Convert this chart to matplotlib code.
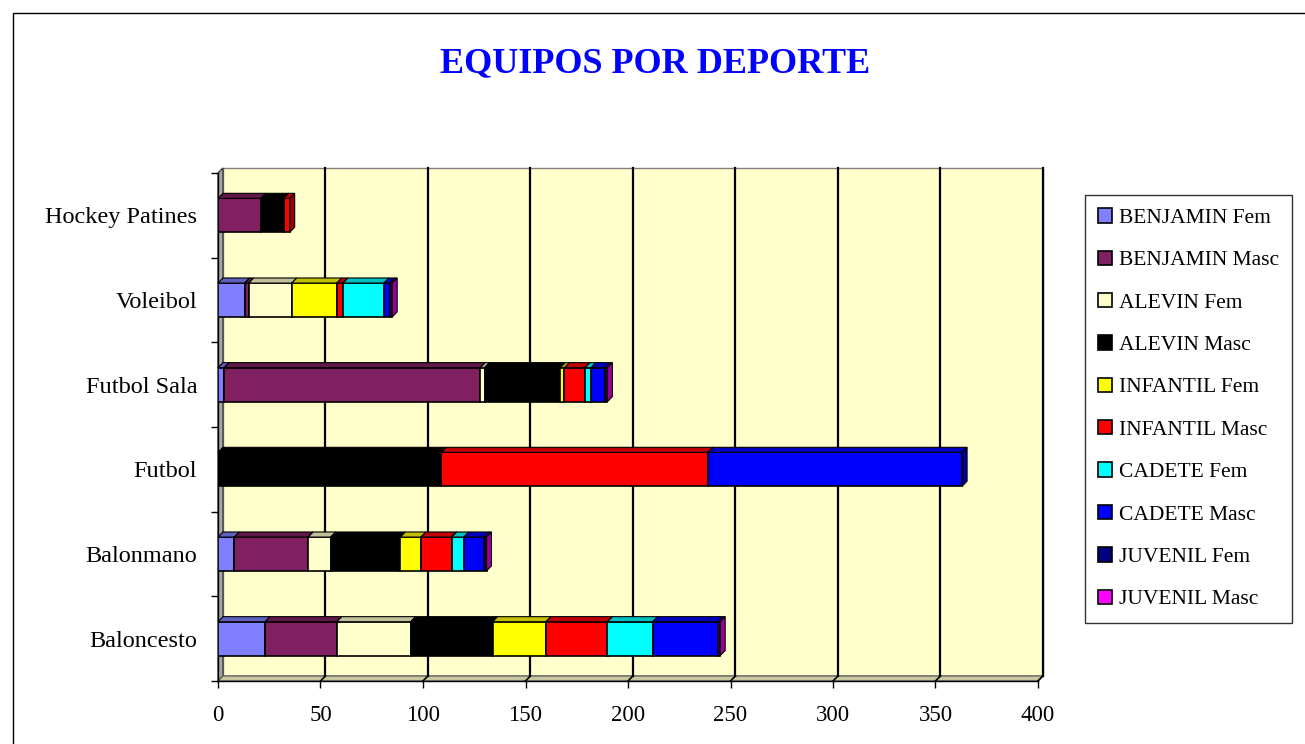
import matplotlib
matplotlib.use('Agg')
import matplotlib.pyplot as plt
from matplotlib.patches import Polygon, Rectangle, Patch
from matplotlib.colors import to_rgb

deportes = ['Baloncesto', 'Balonmano', 'Futbol', 'Futbol Sala', 'Voleibol', 'Hockey Patines']

series = ['BENJAMIN Fem', 'BENJAMIN Masc', 'ALEVIN Fem', 'ALEVIN Masc', 'INFANTIL Fem',
          'INFANTIL Masc', 'CADETE Fem', 'CADETE Masc', 'JUVENIL Fem', 'JUVENIL Masc']

benjamin_fem = [23, 8, 0, 3, 13, 0]
benjamin_masc = [35, 36, 0, 125, 2, 21]
alevin_fem = [36, 11, 0, 2, 21, 0]
alevin_masc = [40, 34, 109, 37, 0, 11]
infantil_fem = [26, 10, 0, 2, 22, 0]
infantil_masc = [30, 15, 130, 10, 3, 3]
cadete_fem = [22, 6, 0, 3, 20, 0]
cadete_masc = [32, 10, 124, 7, 3, 0]
juvenil_fem = [0, 0, 0, 0, 0, 0]
juvenil_masc = [1, 1, 0, 1, 1, 0]

valores = [benjamin_fem, benjamin_masc, alevin_fem, alevin_masc, infantil_fem,
           infantil_masc, cadete_fem, cadete_masc, juvenil_fem, juvenil_masc]

colores = ['#8080FF', '#802060', '#FFFFCC', '#000000', '#FFFF00',
           '#FF0000', '#00FFFF', '#0000FF', '#000080', '#FF00FF']

serif = ['Liberation Serif', 'DejaVu Serif']
plt.rcParams['font.family'] = serif


def oscuro(c, f=0.75):
    r, g, b = to_rgb(c)
    return (r * f, g * f, b * f)


fig = plt.figure(figsize=(13.05, 7.44), dpi=100)
ax = fig.add_axes([218 / 1305, 63 / 744, 820 / 1305, 508 / 744])
ax.set_xlim(0, 400)
ax.set_ylim(-0.5, 5.5)
ax.patch.set_visible(False)
for s in ax.spines.values():
    s.set_visible(False)

# profundidad 3D en unidades de datos
dx = 2.4
dy = 0.06
h = 0.4

# pared del fondo
ax.add_patch(Rectangle((dx, -0.5 + dy), 400, 6, facecolor='#FFFFCC', edgecolor='#808080',
                       lw=1, clip_on=False, zorder=0))
# pared izquierda
ax.add_patch(Polygon([(0, -0.5), (0, 5.5), (dx, 5.5 + dy), (dx, -0.5 + dy)],
                     facecolor='#A8A8A8', edgecolor='#404040', lw=1, clip_on=False, zorder=1))
# suelo
ax.add_patch(Polygon([(0, -0.5), (400, -0.5), (400 + dx, -0.5 + dy), (dx, -0.5 + dy)],
                     facecolor='#C8C8A0', edgecolor='#606060', lw=1, clip_on=False, zorder=1))

for gx in range(50, 401, 50):
    ax.plot([gx + dx, gx + dx], [-0.5 + dy, 5.5 + dy], color='black', lw=1.6,
            clip_on=False, zorder=1)
    ax.plot([gx, gx + dx], [-0.5, -0.5 + dy], color='black', lw=1.2,
            clip_on=False, zorder=1)

for i, dep in enumerate(deportes):
    izq = 0
    ultimo = None
    for vals, col in zip(valores, colores):
        w = vals[i]
        if w <= 0:
            continue
        ax.barh(i, w, left=izq, height=h, color=col, edgecolor='black', lw=1.2, zorder=3)
        ax.add_patch(Polygon([(izq, i + h / 2), (izq + w, i + h / 2),
                              (izq + w + dx, i + h / 2 + dy), (izq + dx, i + h / 2 + dy)],
                             facecolor=oscuro(col), edgecolor='black', lw=0.8,
                             clip_on=False, zorder=3))
        izq += w
        ultimo = col
    if ultimo is not None:
        ax.add_patch(Polygon([(izq, i - h / 2), (izq, i + h / 2),
                              (izq + dx, i + h / 2 + dy), (izq + dx, i - h / 2 + dy)],
                             facecolor=oscuro(ultimo, 0.6), edgecolor='black', lw=0.8,
                             clip_on=False, zorder=3))

ax.set_xticks(range(0, 401, 50))
ax.tick_params(axis='x', length=5, width=1, direction='out', labelsize=16.5, pad=12)
ax.set_yticks([-0.5 + k for k in range(7)])
ax.set_yticklabels([])
ax.set_yticks(range(len(deportes)), minor=True)
ax.set_yticklabels(deportes, minor=True, fontsize=17.5)
ax.tick_params(axis='y', which='major', length=5, width=1, direction='out')
ax.tick_params(axis='y', which='minor', length=0, pad=15)
ax.plot([0, 400], [-0.5, -0.5], color='black', lw=1, clip_on=False, zorder=2)
ax.plot([0, 0], [-0.5, 5.5], color='black', lw=1, clip_on=False, zorder=2)

fig.text(655 / 1305, 1 - 64 / 744, 'EQUIPOS POR DEPORTE', ha='center', va='center',
         fontsize=26, fontweight='bold', color='#0000FF')

handles = [Patch(facecolor=c, edgecolor='black', lw=1.2) for c in colores]
leg = fig.legend(handles, series, loc='upper left',
                 bbox_to_anchor=(1085 / 1305, 1 - 195 / 744), fontsize=15.5,
                 frameon=True, fancybox=False, edgecolor='black', handlelength=0.65,
                 handleheight=0.65, handletextpad=0.3, labelspacing=1.05,
                 borderpad=0.62, borderaxespad=0)
leg.get_frame().set_linewidth(1)

fig.patches.append(Rectangle((13 / 1305, -0.1), 1.2, 1 - 13 / 744 + 0.1,
                             transform=fig.transFigure, fill=False, edgecolor='black',
                             lw=1, figure=fig))

plt.savefig('out.png', dpi=100)
